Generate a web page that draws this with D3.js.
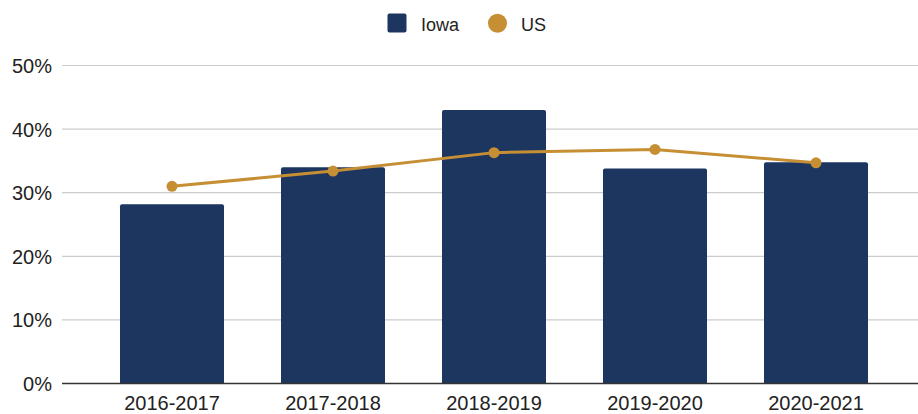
<!DOCTYPE html>
<html>
<head>
<meta charset="utf-8">
<script src="https://cdn.jsdelivr.net/npm/d3@7"></script>
<style>
  body { margin: 0; background: #fff; }
  text { font-family: "Liberation Sans", Arial, sans-serif; fill: #222; }
</style>
</head>
<body>
<script>
// data
var seasons = ["2016-2017", "2017-2018", "2018-2019", "2019-2020", "2020-2021"];
var iowa = [28.2, 34.0, 43.0, 33.8, 34.8];
var us = [31.0, 33.4, 36.3, 36.8, 34.7];
var yTicks = [0, 10, 20, 30, 40, 50];

var width = 918, height = 414;
var navy = "#1d3660", gold = "#c68f34";

var svg = d3.select("body").append("svg")
    .attr("width", width)
    .attr("height", height);

var x = d3.scaleBand().domain(seasons).range([91.5, 896.5])
    .paddingInner(0.354).paddingOuter(0.177);
var y = d3.scaleLinear().domain([0, 50]).range([383.5, 65.5]);

// grid
svg.append("g").selectAll("line").data(yTicks.slice(1)).enter().append("line")
    .attr("x1", 62).attr("x2", width)
    .attr("y1", function(d) { return y(d); })
    .attr("y2", function(d) { return y(d); })
    .attr("stroke", "#cccccc").attr("stroke-width", 1.2);

// y labels
svg.append("g").selectAll("text").data(yTicks).enter().append("text")
    .attr("x", 52)
    .attr("y", function(d) { return y(d) + 7.5; })
    .attr("text-anchor", "end")
    .attr("font-size", 20)
    .text(function(d) { return d + "%"; });

// bars, slight rounding at top
svg.append("g").selectAll("path").data(iowa).enter().append("path")
    .attr("fill", navy)
    .attr("d", function(d, i) {
        var x0 = x(seasons[i]), w = x.bandwidth(), top = y(d), bot = y(0), r = 2;
        return "M" + x0 + "," + bot + "V" + (top + r) + "Q" + x0 + "," + top + " " + (x0 + r) + "," + top +
            "H" + (x0 + w - r) + "Q" + (x0 + w) + "," + top + " " + (x0 + w) + "," + (top + r) + "V" + bot + "Z";
    });

// baseline
svg.append("line")
    .attr("x1", 62).attr("x2", width)
    .attr("y1", y(0)).attr("y2", y(0))
    .attr("stroke", "#333").attr("stroke-width", 1.3);

// x labels
svg.append("g").selectAll("text").data(seasons).enter().append("text")
    .attr("x", function(d) { return x(d) + x.bandwidth() / 2; })
    .attr("y", 410)
    .attr("text-anchor", "middle")
    .attr("font-size", 20)
    .text(function(d) { return d; });

// US line
var line = d3.line()
    .x(function(d, i) { return x(seasons[i]) + x.bandwidth() / 2; })
    .y(function(d) { return y(d); });

svg.append("path")
    .attr("d", line(us))
    .attr("fill", "none")
    .attr("stroke", gold)
    .attr("stroke-width", 3);

svg.append("g").selectAll("circle").data(us).enter().append("circle")
    .attr("cx", function(d, i) { return x(seasons[i]) + x.bandwidth() / 2; })
    .attr("cy", function(d) { return y(d); })
    .attr("r", 5.5)
    .attr("fill", gold);

// legend
var legend = svg.append("g");
legend.append("rect")
    .attr("x", 387.5).attr("y", 13.5).attr("width", 19).attr("height", 19)
    .attr("rx", 2).attr("fill", navy);
legend.append("text").attr("x", 421).attr("y", 30.5).attr("font-size", 18).text("Iowa");
legend.append("circle").attr("cx", 497.5).attr("cy", 23.3).attr("r", 9.5).attr("fill", gold);
legend.append("text").attr("x", 521).attr("y", 30.5).attr("font-size", 18).text("US");
</script>
</body>
</html>
